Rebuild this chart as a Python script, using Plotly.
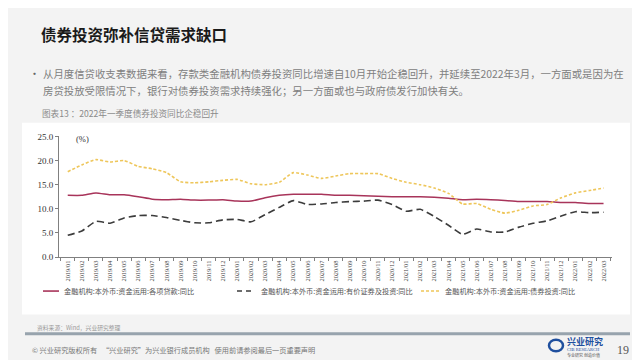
import plotly.graph_objects as go

months = [f"{y}/{m:02d}" for y in (2019, 2020, 2021) for m in range(1, 13)] + ["2022/01", "2022/02", "2022/03"]

loans = [12.8, 12.8, 13.3, 12.9, 12.9, 12.5, 12.0, 11.9, 12.0, 11.8, 11.8, 11.9,
         11.6, 11.6, 12.3, 12.8, 13.0, 13.0, 13.0, 12.8, 12.8, 12.7, 12.6, 12.5,
         12.5, 12.5, 12.4, 12.2, 11.9, 12.0, 11.9, 11.7, 11.5, 11.5, 11.5, 11.3,
         11.3, 11.1, 11.1]
securities = [4.5, 5.4, 7.4, 7.0, 8.1, 8.6, 8.6, 8.2, 7.6, 7.1, 7.1, 7.7,
              7.8, 7.3, 8.8, 10.3, 11.7, 10.9, 11.0, 11.3, 11.5, 11.6, 11.8, 10.9,
              9.5, 9.9, 8.4, 6.6, 4.7, 5.8, 5.2, 5.2, 6.2, 7.0, 7.5, 8.5,
              9.4, 9.2, 9.3]
bonds = [17.7, 19.1, 20.2, 19.7, 20.0, 18.8, 18.3, 17.5, 15.6, 15.4, 15.6, 15.9,
         16.1, 15.2, 15.0, 15.5, 17.5, 17.0, 16.3, 16.8, 17.3, 17.3, 17.3, 16.3,
         15.5, 15.0, 14.3, 13.2, 11.0, 11.1, 9.9, 9.1, 9.7, 10.6, 10.9, 12.3,
         13.3, 13.8, 14.3]

series_names = ["金融机构:本外币:资金运用:各项贷款:同比",
                "金融机构:本外币:资金运用:有价证券及投资:同比",
                "金融机构:本外币:资金运用:债券投资:同比"]
y_ticks = [0, 5, 10, 15, 20, 25]

W, H = 640, 360
def px(x): return x / W
def py(y): return 1 - y / H

colors = ["#A8345A", "#3C3C3C", "#EEC65A"]
dashes = ["solid", "7px,4px", "3px,2px"]
widths = [1.5, 1.6, 1.6]

fig = go.Figure()
for vals, name, c, d, w in zip([loans, securities, bonds], series_names, colors, dashes, widths):
    fig.add_trace(go.Scatter(x=months, y=vals, mode="lines", name=name,
                             line=dict(color=c, dash=d, width=w, shape="spline", smoothing=0.5),
                             showlegend=False))

serif = "Liberation Serif"
cjk = "Noto Sans CJK SC"

fig.update_layout(
    width=W, height=H, margin=dict(l=0, r=0, t=0, b=0),
    paper_bgcolor="#f3f3f3", plot_bgcolor="rgba(0,0,0,0)",
    xaxis=dict(domain=[px(51), px(604)], type="category", range=[-0.62, 38.6],
               tickangle=-90, tickfont=dict(family=serif, size=6.4, color="#444"),
               showline=True, linecolor="#808080", linewidth=1, showgrid=False,
               ticks="outside", ticklen=3, tickcolor="#808080", tickson="boundaries"),
    yaxis=dict(domain=[py(251), py(127)], range=[0, 25], tickvals=y_ticks,
               ticktext=[f"{v:.1f}" for v in y_ticks],
               tickfont=dict(family=serif, size=9, color="#333"),
               showline=True, linecolor="#808080", linewidth=1, showgrid=False,
               ticks="outside", ticklen=3, tickcolor="#808080", zeroline=False),
    shapes=[
        dict(type="rect", xref="paper", yref="paper", x0=px(14), x1=px(622), y0=py(310), y1=py(113),
             fillcolor="white", line=dict(width=0), layer="below"),
        dict(type="line", xref="paper", yref="paper", x0=px(17), x1=px(622), y0=py(330), y1=py(330),
             line=dict(color="#97a3ad", width=3)),
        # legend keys
        dict(type="line", xref="paper", yref="paper", x0=px(35), x1=px(51), y0=py(286), y1=py(286),
             line=dict(color=colors[0], width=1.6)),
        dict(type="line", xref="paper", yref="paper", x0=px(229), x1=px(247), y0=py(286), y1=py(286),
             line=dict(color=colors[1], width=1.6, dash="5px,4px")),
        dict(type="line", xref="paper", yref="paper", x0=px(413), x1=px(431), y0=py(286), y1=py(286),
             line=dict(color=colors[2], width=1.6, dash="3px,2px")),
        # logo swirl
        dict(type="circle", xref="paper", yref="paper", x0=px(541), x1=px(555), y0=py(348), y1=py(336),
             line=dict(color="#1f4f9e", width=2.5)),
    ],
)

ann = []
def t(x, y, text, size, color, family=cjk, xanchor="left", **kw):
    ann.append(dict(x=px(x), y=py(y), xref="paper", yref="paper", text=text, showarrow=False,
                    xanchor=xanchor, yanchor="middle", font=dict(family=family, size=size, color=color), **kw))

t(31, 22, "<b>债券投资弥补信贷需求缺口</b>", 15.5, "#1a1a1a")
t(19, 62, "•", 11, "#666")
t(33, 62, "从月度信贷收支表数据来看，存款类金融机构债券投资同比增速自10月开始企稳回升，并延续至2022年3月，一方面或是因为在", 10.4, "#808080")
t(33, 80, "房贷投放受限情况下，银行对债券投资需求持续强化；另一方面或也与政府债发行加快有关。", 10.4, "#808080")
t(32, 103, "图表13 ：2022年一季度债券投资同比企稳回升", 8.6, "#8a8a8a")
t(66, 130, "(%)", 8.5, "#333", family=serif)
t(54, 286, series_names[0], 7.2, "#555")
t(251, 286, series_names[1], 7.2, "#555")
t(435, 286, series_names[2], 7.2, "#555")
t(27, 323, "资料来源：Wind，兴业研究整理", 5.8, "#999")
t(22, 347, "© 兴业研究版权所有   “兴业研究”为兴业银行成员机构   使用前请参阅最后一页重要声明", 7.2, "#777")
t(557, 338, "<b>兴业研究</b>", 9, "#1f4f9e")
t(557, 346, "CIB RESEARCH", 4.5, "#1f4f9e", family=serif)
t(557, 352, "专业研究 创造价值", 4, "#555")
t(607, 347, "19", 12, "#555", family=serif)

fig.update_layout(annotations=ann)
fig.write_html("out.html")
